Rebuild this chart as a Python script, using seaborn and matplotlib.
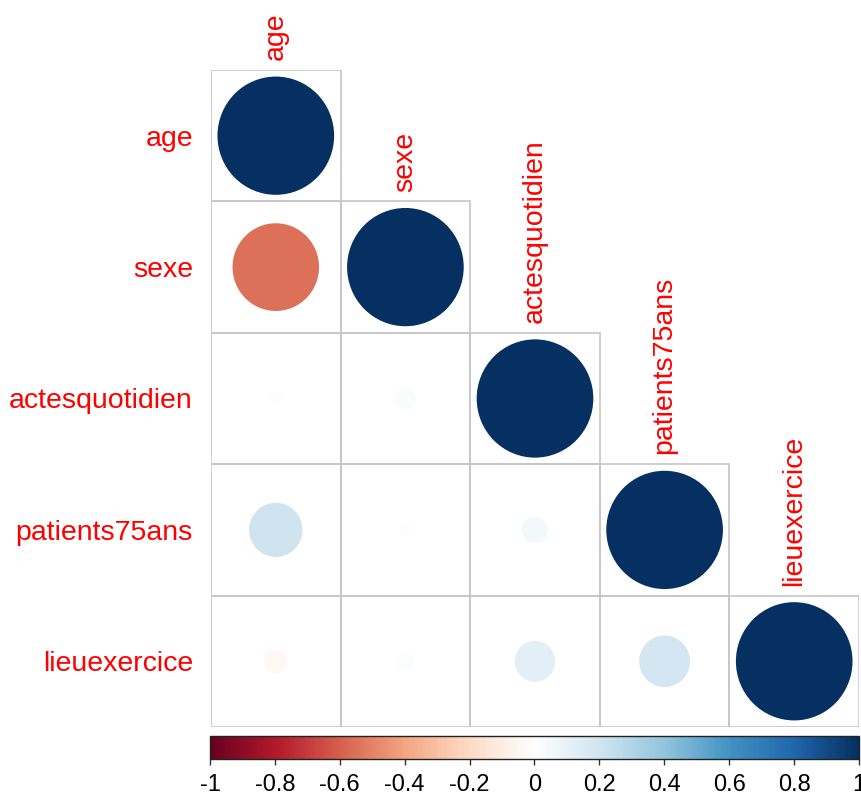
import numpy as np
import seaborn as sns
import matplotlib as mpl
import matplotlib.pyplot as plt
from matplotlib.patches import Circle, Rectangle

variables = ["age", "sexe", "actesquotidien", "patients75ans", "lieuexercice"]

# lower triangle of the correlation matrix, row by row
corr_rows = [
    [1.00],
    [-0.55, 1.00],
    [0.01, 0.03, 1.00],
    [0.21, 0.01, 0.05, 1.00],
    [-0.04, 0.02, 0.12, 0.19, 1.00],
]

cbar_ticks = [-1, -0.8, -0.6, -0.4, -0.2, 0, 0.2, 0.4, 0.6, 0.8, 1]
cbar_labels = ["-1", "-0.8", "-0.6", "-0.4", "-0.2", "0", "0.2", "0.4", "0.6", "0.8", "1"]

# corrplot's RdBu ramp (white in the middle)
rdbu = ["#67001F", "#B2182B", "#D6604D", "#F4A582", "#FDDBC7", "#FFFFFF",
        "#D1E5F0", "#92C5DE", "#4393C3", "#2166AC", "#053061"]

sns.set_theme(style="white")
plt.rcParams["font.family"] = ["Liberation Sans", "DejaVu Sans"]

fig = plt.figure(figsize=(8.62, 7.98), dpi=100)
ax = fig.add_axes([211 / 862, 1 - 727 / 798, 648 / 862, 657 / 798])

cmap = sns.blend_palette(rdbu, n_colors=200, as_cmap=True)
norm = mpl.colors.Normalize(-1, 1)

for i, row in enumerate(corr_rows):
    for j, r in enumerate(row):
        ax.add_patch(Rectangle((j - 0.5, i - 0.5), 1, 1, fill=False,
                               ec="#c6c6c6", lw=1.2))
        rad = 0.45 * np.sqrt(abs(r))
        ax.add_patch(Circle((j, i), rad, fc=cmap(norm(r)), lw=0))

ax.set_xlim(-0.5, 4.5)
ax.set_ylim(4.5, -0.5)
ax.set_xticks([])
ax.set_yticks(range(len(variables)))
ax.set_yticklabels(variables, color="red", fontsize=20.5)
ax.tick_params(axis="y", length=0, pad=13)
for s in ax.spines.values():
    s.set_visible(False)

# column labels sit on top of the diagonal cells
for j, name in enumerate(variables):
    ax.annotate(name, xy=(j, j - 0.5), xytext=(0, 7), textcoords="offset points",
                rotation=90, ha="center", va="bottom", color="red", fontsize=20.5,
                annotation_clip=False)

cax = fig.add_axes([210 / 862, 1 - 759 / 798, 649 / 862, 23 / 798])
sm = mpl.cm.ScalarMappable(norm=norm, cmap=cmap)
cb = fig.colorbar(sm, cax=cax, orientation="horizontal", ticks=cbar_ticks)
cb.ax.set_xticklabels(cbar_labels, fontsize=17, color="black")
cb.ax.tick_params(axis="x", direction="out", length=4, width=1, color="#333333",
                  bottom=True, pad=7)
cb.outline.set_edgecolor("#222222")
cb.outline.set_linewidth(1)

fig.savefig("out.png", dpi=100)
